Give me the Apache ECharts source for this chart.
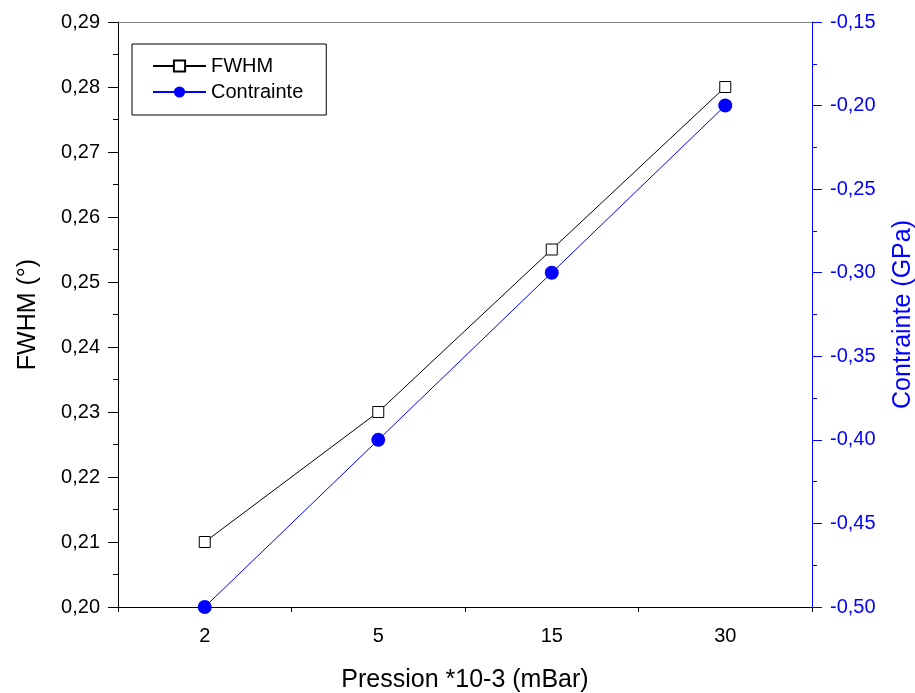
<!DOCTYPE html>
<html>
<head>
<meta charset="utf-8">
<script src="https://cdn.jsdelivr.net/npm/echarts@6/dist/echarts.min.js"></script>
<style>
html,body{margin:0;padding:0;background:#fff;}
#chart{width:915px;height:693px;}
</style>
</head>
<body>
<div id="chart"></div>
<script>
var categories = ['2', '5', '15', '30'];
var fwhmValues = [0.21, 0.23, 0.255, 0.28];
var contrainteValues = [-0.50, -0.40, -0.30, -0.20];

var FONT = '"Liberation Sans", Arial, sans-serif';
var BLUE = '#0000ff';
function comma(v, d) { return v.toFixed(d).replace('.', ','); }

var chart = echarts.init(document.getElementById('chart'));
chart.setOption({
  backgroundColor: '#fff',
  animation: false,
  textStyle: { fontFamily: FONT },
  grid: { left: 118, right: 103, top: 22, bottom: 86, containLabel: false, outerBoundsMode: 'none' },
  legend: {
    orient: 'vertical',
    left: 132, top: 44,
    padding: [12, 23, 13, 20],
    borderColor: '#000', borderWidth: 1,
    itemWidth: 53, itemHeight: 14, itemGap: 6,
    textStyle: { fontFamily: FONT, fontSize: 20, color: '#000' },
    data: ['FWHM', 'Contrainte']
  },
  xAxis: [
    {
      type: 'category', data: categories, position: 'bottom', boundaryGap: true,
      axisLine: { lineStyle: { color: '#000', width: 1 } },
      axisTick: { alignWithLabel: true, length: 9, lineStyle: { color: '#000' } },
      axisLabel: { fontFamily: FONT, fontSize: 20, color: '#000', margin: 19 },
      splitLine: { show: false },
      name: 'Pression *10-3 (mBar)', nameLocation: 'middle', nameGap: 61,
      nameTextStyle: { fontFamily: FONT, fontSize: 25, color: '#000' }
    },
    {
      type: 'category', data: categories, position: 'bottom', boundaryGap: true,
      axisLine: { show: false },
      axisTick: { show: true, length: 5, lineStyle: { color: '#000' } },
      axisLabel: { show: false }, splitLine: { show: false }
    },
    {
      type: 'category', data: categories, position: 'top', boundaryGap: true,
      axisLine: { lineStyle: { color: '#808080', width: 1 } },
      axisTick: { inside: true, alignWithLabel: true, length: 10, lineStyle: { color: '#000' } },
      axisLabel: { show: false }, splitLine: { show: false }
    },
    {
      type: 'category', data: categories, position: 'top', boundaryGap: true,
      axisLine: { show: false },
      axisTick: { inside: true, length: 5, lineStyle: { color: '#000' } },
      axisLabel: { show: false }, splitLine: { show: false }
    }
  ],
  yAxis: [
    {
      type: 'value', position: 'left', min: 0.20, max: 0.29, interval: 0.01,
      axisLine: { show: true, lineStyle: { color: '#000', width: 1 } },
      axisTick: { show: true, length: 10, lineStyle: { color: '#000' } },
      minorTick: { show: true, splitNumber: 2, length: 5, lineStyle: { color: '#000' } },
      axisLabel: { fontFamily: FONT, fontSize: 20, color: '#000', margin: 18,
        formatter: function (v) { return comma(v, 2); } },
      splitLine: { show: false },
      name: 'FWHM (°)', nameLocation: 'middle', nameGap: 77, nameRotate: 90,
      nameTextStyle: { fontFamily: FONT, fontSize: 25, color: '#000' }
    },
    {
      type: 'value', position: 'right', min: -0.50, max: -0.15, interval: 0.05,
      axisLine: { show: true, lineStyle: { color: BLUE, width: 1 } },
      axisTick: { show: true, length: 10, lineStyle: { color: BLUE } },
      minorTick: { show: true, splitNumber: 2, length: 5, lineStyle: { color: BLUE } },
      axisLabel: { fontFamily: FONT, fontSize: 20, color: BLUE, margin: 18,
        formatter: function (v) { return comma(v, 2); } },
      splitLine: { show: false },
      name: 'Contrainte (GPa)', nameLocation: 'middle', nameGap: 79, nameRotate: 90,
      nameTextStyle: { fontFamily: FONT, fontSize: 25, color: BLUE }
    }
  ],
  series: [
    {
      name: 'FWHM', type: 'line', xAxisIndex: 0, yAxisIndex: 0,
      data: fwhmValues,
      symbol: 'rect', symbolSize: 11,
      lineStyle: { color: '#000', width: 1 },
      itemStyle: { color: '#fff', borderColor: '#000', borderWidth: 1 },
      z: 3
    },
    {
      name: 'Contrainte', type: 'line', xAxisIndex: 0, yAxisIndex: 1,
      data: contrainteValues,
      symbol: 'circle', symbolSize: 14,
      lineStyle: { color: BLUE, width: 1 },
      itemStyle: { color: BLUE, borderColor: BLUE, borderWidth: 0 },
      z: 4
    }
  ]
});
</script>
</body>
</html>
